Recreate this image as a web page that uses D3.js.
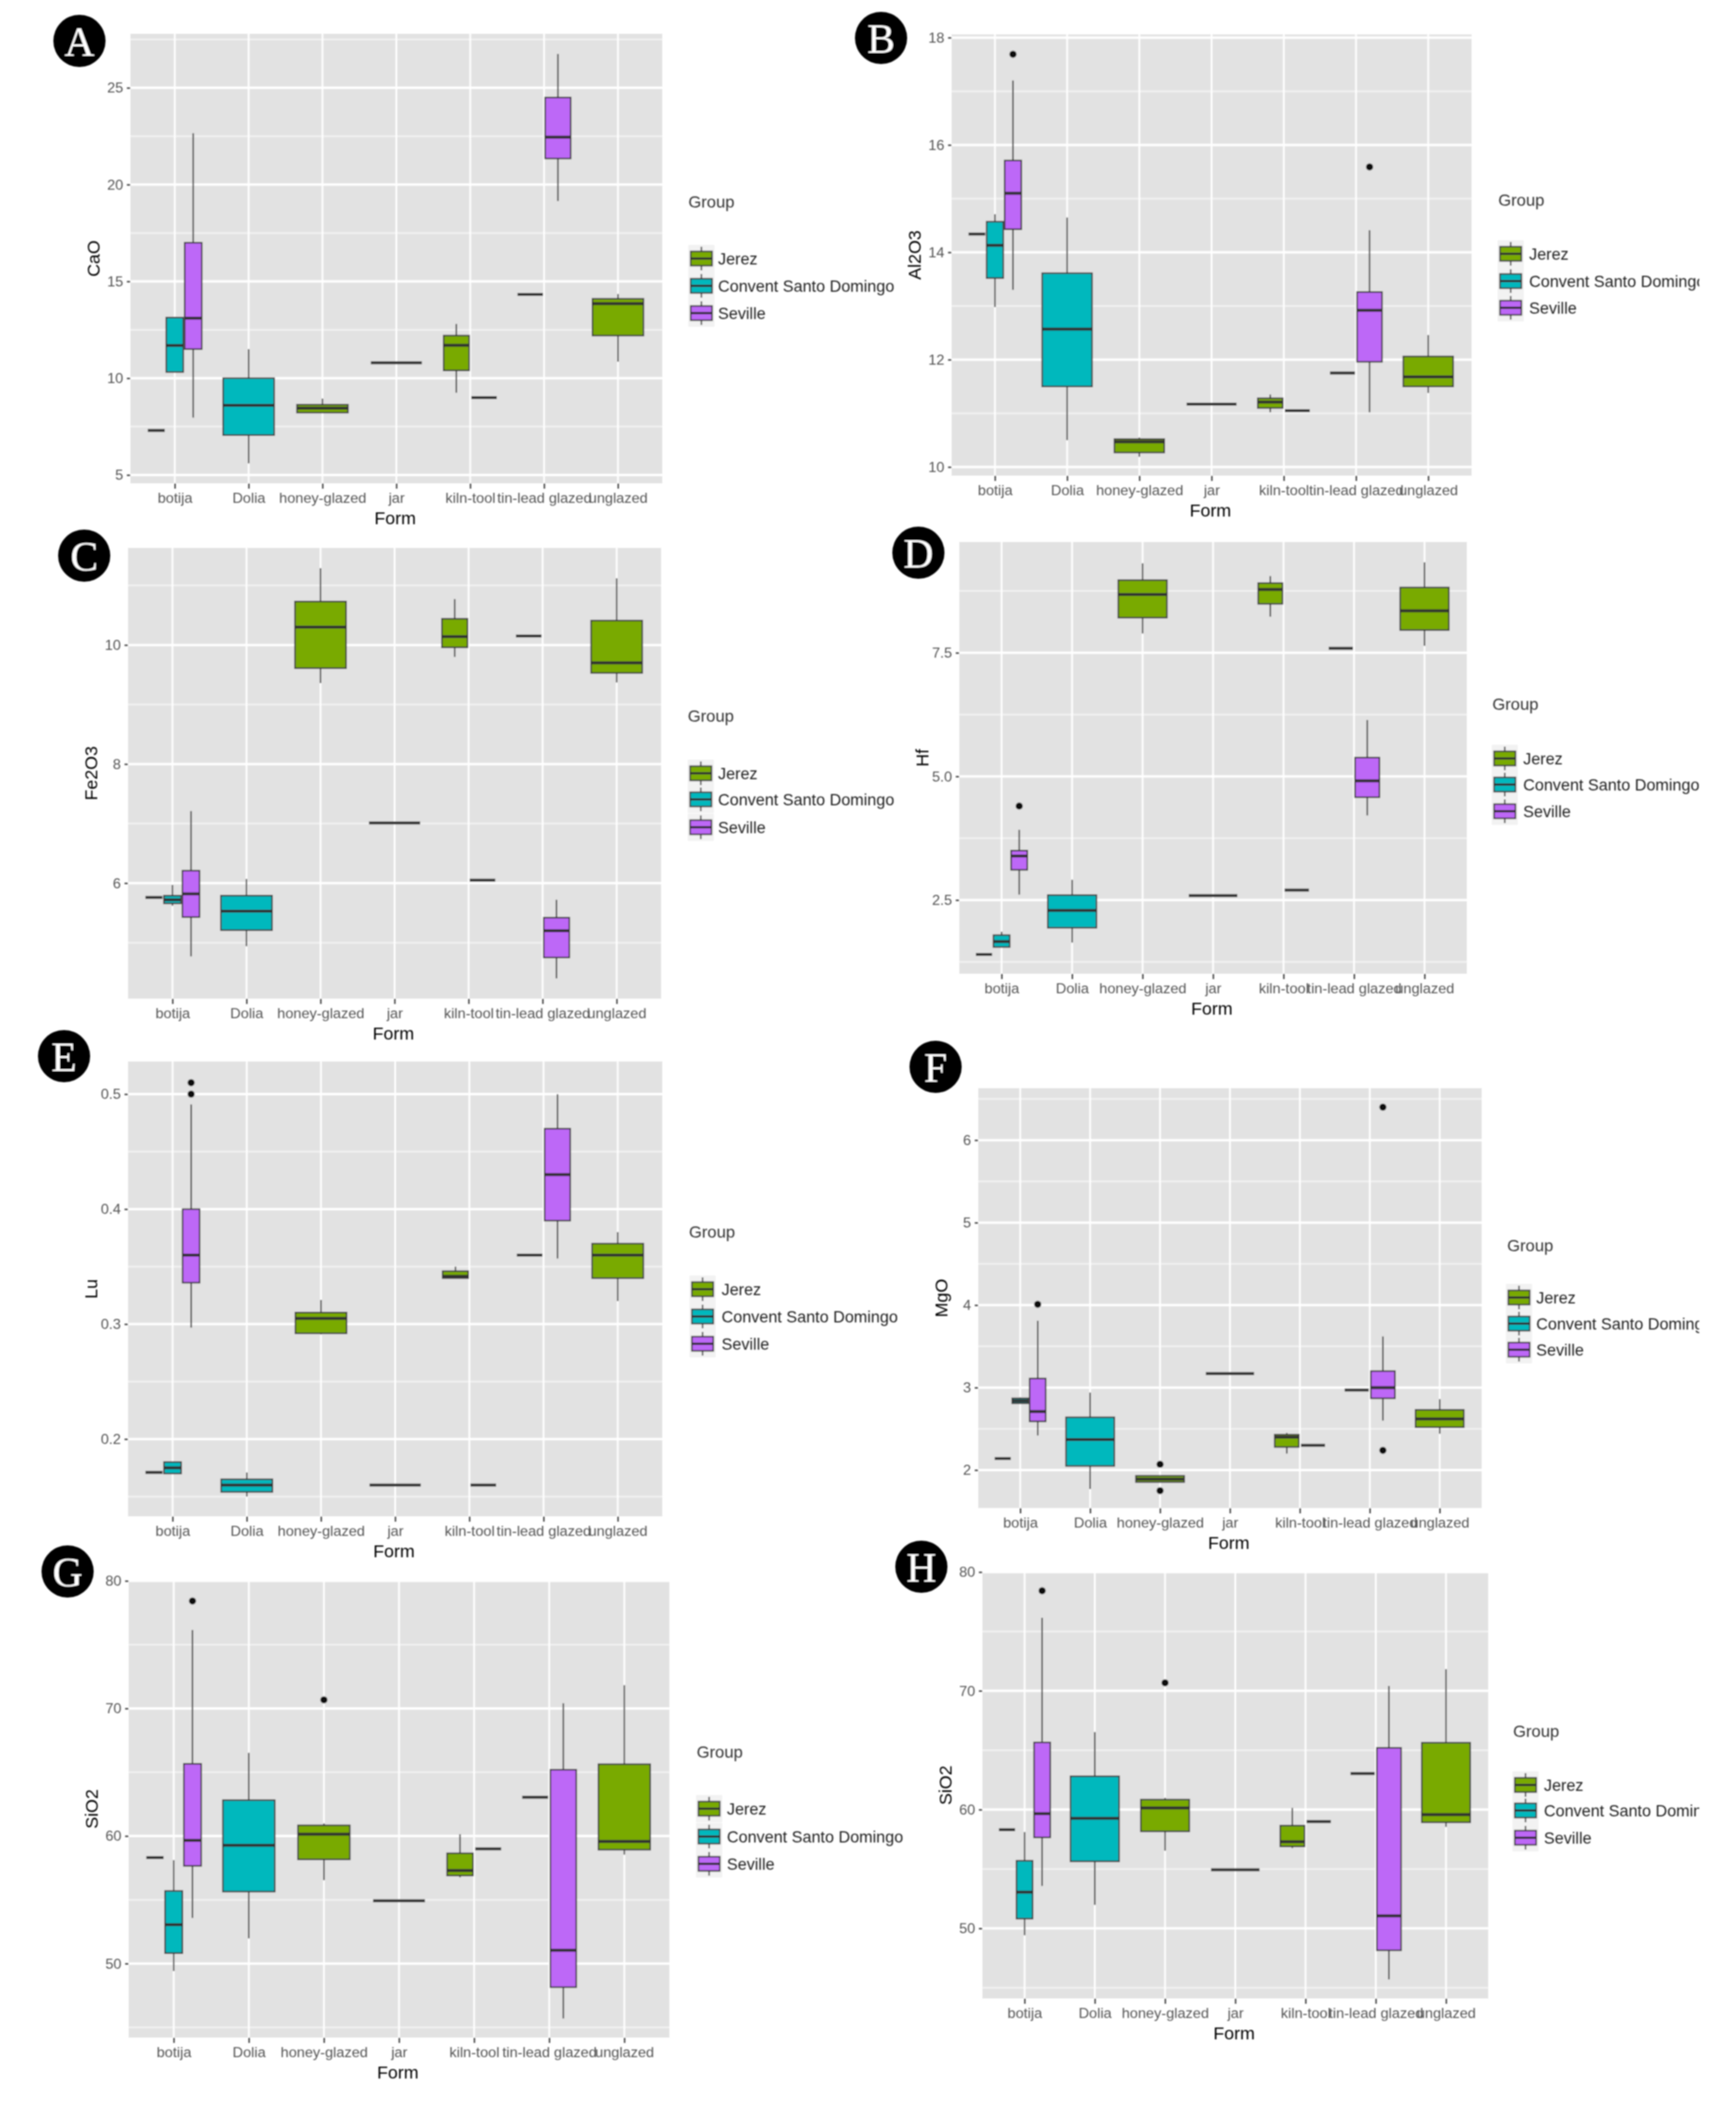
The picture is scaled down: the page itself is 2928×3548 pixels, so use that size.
<!DOCTYPE html>
<html>
<head>
<meta charset="utf-8">
<script src="https://cdn.jsdelivr.net/npm/d3@7"></script>
<style>
  html, body { margin: 0; background: #fff; }
  text { font-family: "Liberation Sans", Arial, sans-serif; }
</style>
</head>
<body>
<div id="chart"></div>
<script>
// Categories and groups
var forms = ["botija", "Dolia", "honey-glazed", "jar", "kiln-tool", "tin-lead glazed", "unglazed"];
var groups = ["Jerez", "Convent Santo Domingo", "Seville"];
var groupColors = ["#79aa00", "#00b8bd", "#bd68f7"];

// Box rows: form, group, whisker low, q1, median, q3, whisker high, outliers
var caO = [
  ["botija", "Jerez", 7.3, 7.3, 7.3, 7.3, 7.3, []],
  ["botija", "Convent Santo Domingo", 10.32, 10.32, 11.69, 13.13, 13.16, []],
  ["botija", "Seville", 7.96, 11.5, 13.1, 17.0, 22.65, []],
  ["Dolia", "Convent Santo Domingo", 5.6, 7.06, 8.6, 10.0, 11.5, []],
  ["honey-glazed", "Jerez", 8.22, 8.22, 8.45, 8.63, 8.95, []],
  ["jar", "Jerez", 10.8, 10.8, 10.8, 10.8, 10.8, []],
  ["kiln-tool", "Jerez", 9.25, 10.4, 11.7, 12.2, 12.8, []],
  ["kiln-tool", "Convent Santo Domingo", 9.0, 9.0, 9.0, 9.0, 9.0, []],
  ["tin-lead glazed", "Jerez", 14.33, 14.33, 14.33, 14.33, 14.33, []],
  ["tin-lead glazed", "Seville", 19.15, 21.35, 22.45, 24.5, 26.75, []],
  ["unglazed", "Jerez", 10.85, 12.2, 13.85, 14.1, 14.35, []]
];

var al2O3 = [
  ["botija", "Jerez", 14.34, 14.34, 14.34, 14.34, 14.34, []],
  ["botija", "Convent Santo Domingo", 12.98, 13.52, 14.13, 14.57, 14.71, []],
  ["botija", "Seville", 13.3, 14.43, 15.1, 15.71, 17.2, [17.69]],
  ["Dolia", "Convent Santo Domingo", 10.5, 11.5, 12.57, 13.61, 14.65, []],
  ["honey-glazed", "Jerez", 10.19, 10.27, 10.47, 10.52, 10.55, []],
  ["jar", "Jerez", 11.17, 11.17, 11.17, 11.17, 11.17, []],
  ["kiln-tool", "Jerez", 11.02, 11.1, 11.21, 11.28, 11.35, []],
  ["kiln-tool", "Convent Santo Domingo", 11.05, 11.05, 11.05, 11.05, 11.05, []],
  ["tin-lead glazed", "Jerez", 11.75, 11.75, 11.75, 11.75, 11.75, []],
  ["tin-lead glazed", "Seville", 11.02, 11.96, 12.92, 13.26, 14.41, [15.59]],
  ["unglazed", "Jerez", 11.38, 11.5, 11.68, 12.06, 12.46, []]
];

var fe2O3 = [
  ["botija", "Jerez", 5.76, 5.76, 5.76, 5.76, 5.76, []],
  ["botija", "Convent Santo Domingo", 5.62, 5.66, 5.72, 5.79, 5.97, []],
  ["botija", "Seville", 4.77, 5.43, 5.82, 6.21, 7.21, []],
  ["Dolia", "Convent Santo Domingo", 4.94, 5.21, 5.53, 5.79, 6.07, []],
  ["honey-glazed", "Jerez", 9.36, 9.61, 10.3, 10.73, 11.29, []],
  ["jar", "Jerez", 7.01, 7.01, 7.01, 7.01, 7.01, []],
  ["kiln-tool", "Jerez", 9.8, 9.96, 10.14, 10.44, 10.77, []],
  ["kiln-tool", "Convent Santo Domingo", 6.05, 6.05, 6.05, 6.05, 6.05, []],
  ["tin-lead glazed", "Jerez", 10.15, 10.15, 10.15, 10.15, 10.15, []],
  ["tin-lead glazed", "Seville", 4.4, 4.75, 5.2, 5.42, 5.72, []],
  ["unglazed", "Jerez", 9.37, 9.53, 9.7, 10.41, 11.12, []]
];

var hf = [
  ["botija", "Jerez", 1.4, 1.4, 1.4, 1.4, 1.4, []],
  ["botija", "Convent Santo Domingo", 1.55, 1.55, 1.66, 1.79, 1.86, []],
  ["botija", "Seville", 2.61, 3.11, 3.39, 3.5, 3.92, [4.4]],
  ["Dolia", "Convent Santo Domingo", 1.64, 1.94, 2.29, 2.6, 2.91, []],
  ["honey-glazed", "Jerez", 7.89, 8.21, 8.68, 8.97, 9.31, []],
  ["jar", "Jerez", 2.59, 2.59, 2.59, 2.59, 2.59, []],
  ["kiln-tool", "Jerez", 8.23, 8.49, 8.78, 8.91, 9.05, []],
  ["kiln-tool", "Convent Santo Domingo", 2.7, 2.7, 2.7, 2.7, 2.7, []],
  ["tin-lead glazed", "Jerez", 7.59, 7.59, 7.59, 7.59, 7.59, []],
  ["tin-lead glazed", "Seville", 4.21, 4.58, 4.91, 5.38, 6.14, []],
  ["unglazed", "Jerez", 7.64, 7.96, 8.35, 8.82, 9.33, []]
];

var lu = [
  ["botija", "Jerez", 0.171, 0.171, 0.171, 0.171, 0.171, []],
  ["botija", "Convent Santo Domingo", 0.17, 0.17, 0.175, 0.18, 0.18, []],
  ["botija", "Seville", 0.297, 0.336, 0.36, 0.4, 0.491, [0.5, 0.51]],
  ["Dolia", "Convent Santo Domingo", 0.15, 0.154, 0.16, 0.165, 0.171, []],
  ["honey-glazed", "Jerez", 0.291, 0.292, 0.305, 0.31, 0.321, []],
  ["jar", "Jerez", 0.16, 0.16, 0.16, 0.16, 0.16, []],
  ["kiln-tool", "Jerez", 0.34, 0.34, 0.3415, 0.346, 0.35, []],
  ["kiln-tool", "Convent Santo Domingo", 0.16, 0.16, 0.16, 0.16, 0.16, []],
  ["tin-lead glazed", "Jerez", 0.36, 0.36, 0.36, 0.36, 0.36, []],
  ["tin-lead glazed", "Seville", 0.357, 0.39, 0.43, 0.47, 0.5, []],
  ["unglazed", "Jerez", 0.32, 0.34, 0.36, 0.37, 0.38, []]
];

var mgO = [
  ["botija", "Jerez", 2.14, 2.14, 2.14, 2.14, 2.14, []],
  ["botija", "Convent Santo Domingo", 2.81, 2.81, 2.84, 2.87, 2.88, []],
  ["botija", "Seville", 2.42, 2.59, 2.71, 3.11, 3.81, [4.01]],
  ["Dolia", "Convent Santo Domingo", 1.77, 2.05, 2.37, 2.64, 2.94, []],
  ["honey-glazed", "Jerez", 1.855, 1.855, 1.89, 1.93, 1.93, [1.75, 2.07]],
  ["jar", "Jerez", 3.17, 3.17, 3.17, 3.17, 3.17, []],
  ["kiln-tool", "Jerez", 2.2, 2.28, 2.4, 2.43, 2.45, []],
  ["kiln-tool", "Convent Santo Domingo", 2.3, 2.3, 2.3, 2.3, 2.3, []],
  ["tin-lead glazed", "Jerez", 2.97, 2.97, 2.97, 2.97, 2.97, []],
  ["tin-lead glazed", "Seville", 2.6, 2.87, 3.0, 3.2, 3.62, [2.24, 6.4]],
  ["unglazed", "Jerez", 2.44, 2.52, 2.62, 2.73, 2.86, []]
];

// Panels G and H show the same SiO2 values
var siO2 = [
  ["botija", "Jerez", 58.31, 58.31, 58.31, 58.31, 58.31, []],
  ["botija", "Convent Santo Domingo", 49.42, 50.82, 53.05, 55.69, 58.11, []],
  ["botija", "Seville", 53.58, 57.66, 59.66, 65.66, 76.15, [78.43]],
  ["Dolia", "Convent Santo Domingo", 51.98, 55.64, 59.27, 62.81, 66.53, []],
  ["honey-glazed", "Jerez", 56.54, 58.17, 60.14, 60.84, 60.99, [70.67]],
  ["jar", "Jerez", 54.93, 54.93, 54.93, 54.93, 54.93, []],
  ["kiln-tool", "Jerez", 56.76, 56.9, 57.3, 58.65, 60.14, []],
  ["kiln-tool", "Convent Santo Domingo", 58.99, 58.99, 58.99, 58.99, 58.99, []],
  ["tin-lead glazed", "Jerez", 63.04, 63.04, 63.04, 63.04, 63.04, []],
  ["tin-lead glazed", "Seville", 45.7, 48.15, 51.05, 65.2, 70.41, []],
  ["unglazed", "Jerez", 58.54, 58.93, 59.58, 65.63, 71.82, []]
];

// Tick labels on each y axis
var caOTicks = ["5", "10", "15", "20", "25"];
var al2O3Ticks = ["10", "12", "14", "16", "18"];
var fe2O3Ticks = ["6", "8", "10"];
var hfTicks = ["2.5", "5.0", "7.5"];
var luTicks = ["0.2", "0.3", "0.4", "0.5"];
var mgOTicks = ["2", "3", "4", "5", "6"];
var siO2Ticks = ["50", "60", "70", "80"];

// Where each panel sits on the page. box is [left, top, right, bottom] of the grey area,
// legend is [title x, title y, key x, text x, row y 1, 2, 3], badge is the circled letter.
var panels = [
  { letter: "A", title: "CaO", rows: caO, ticks: caOTicks, domain: [4.57, 27.79], box: [220, 57, 1117, 815],
    legend: [1161, 340, 1165, 1211, 436, 482, 528], badge: [134, 69] },
  { letter: "B", title: "Al2O3", rows: al2O3, ticks: al2O3Ticks, domain: [9.84, 18.06], box: [1605, 58, 2482, 802],
    legend: [2527, 337, 2530, 2579, 428, 474, 519], badge: [1486, 64] },
  { letter: "C", title: "Fe2O3", rows: fe2O3, ticks: fe2O3Ticks, domain: [4.06, 11.63], box: [216, 924, 1115, 1684],
    legend: [1160, 1207, 1164, 1211, 1304, 1348, 1395], badge: [142, 937] },
  { letter: "D", title: "Hf", rows: hf, ticks: hfTicks, domain: [1.01, 9.74], box: [1618, 914, 2474, 1642],
    legend: [2517, 1187, 2520, 2569, 1279, 1323, 1368], badge: [1549, 932] },
  { letter: "E", title: "Lu", rows: lu, ticks: luTicks, domain: [0.1328, 0.5284], box: [216, 1790, 1117, 2557],
    legend: [1162, 2077, 1167, 1217, 2174, 2220, 2266], badge: [108, 1781] },
  { letter: "F", title: "MgO", rows: mgO, ticks: mgOTicks, domain: [1.54, 6.63], box: [1650, 1835, 2499, 2543],
    legend: [2542, 2100, 2544, 2591, 2188, 2232, 2276], badge: [1578, 1799] },
  { letter: "G", title: "SiO2", rows: siO2, ticks: siO2Ticks, domain: [44.2, 80.04], box: [217, 2665, 1129, 3436],
    legend: [1175, 2954, 1178, 1226, 3050, 3097, 3143], badge: [114, 2650] },
  { letter: "H", title: "SiO2", rows: siO2, ticks: siO2Ticks, domain: [44.1, 80], box: [1657, 2651, 2510, 3370],
    legend: [2552, 2919, 2555, 2604, 3010, 3053, 3099], badge: [1554, 2642] }
];

var svg = d3.select("#chart").append("svg")
  .attr("width", 2928)
  .attr("height", 3548)
  .style("display", "block");

var colorOf = d3.scaleOrdinal().domain(groups).range(groupColors);

// The reference is a soft, upscaled scan, so everything gets a light blur.
svg.append("filter").attr("id", "soft")
  .attr("filterUnits", "userSpaceOnUse")
  .attr("x", 0).attr("y", 0).attr("width", 2928).attr("height", 3548)
  .append("feGaussianBlur").attr("stdDeviation", 0.9);

// Legend text runs off the right edge of the page column on the right hand panels.
svg.append("clipPath").attr("id", "right-edge")
  .append("rect").attr("x", 0).attr("y", 0).attr("width", 2866).attr("height", 3548);

var root = svg.append("g").attr("filter", "url(#soft)");

panels.forEach(function (panel) {
  var left = panel.box[0], top = panel.box[1], right = panel.box[2], bottom = panel.box[3];
  var g = root.append("g").attr("class", "panel-" + panel.letter);

  var x = d3.scalePoint().domain(forms).range([left, right]).padding(0.6);
  var y = d3.scaleLinear().domain(panel.domain).range([bottom, top]);
  var step = x.step();
  var tickValues = panel.ticks.map(Number);
  var tickText = d3.scaleOrdinal().domain(tickValues).range(panel.ticks);

  // Grey background and grid.
  g.append("rect")
    .attr("x", left).attr("y", top)
    .attr("width", right - left).attr("height", bottom - top)
    .attr("fill", "#e2e2e2");

  var gap = tickValues[1] - tickValues[0];
  var minor = d3.range(-1, tickValues.length + 1)
    .map(function (i) { return tickValues[0] + (i + 0.5) * gap; })
    .filter(function (v) { return v > panel.domain[0] && v < panel.domain[1]; });

  g.selectAll(".minor").data(minor).enter().append("line")
    .attr("x1", left).attr("x2", right)
    .attr("y1", y).attr("y2", y)
    .attr("stroke", "#f1f1f1").attr("stroke-width", 3);

  g.selectAll(".major").data(tickValues).enter().append("line")
    .attr("x1", left).attr("x2", right)
    .attr("y1", y).attr("y2", y)
    .attr("stroke", "#fff").attr("stroke-width", 4);

  g.selectAll(".vert").data(forms).enter().append("line")
    .attr("x1", x).attr("x2", x)
    .attr("y1", top).attr("y2", bottom)
    .attr("stroke", "#fff").attr("stroke-width", 3);

  // Axes.
  var xAxis = g.append("g")
    .attr("transform", "translate(0," + bottom + ")")
    .call(d3.axisBottom(x).tickSize(9).tickPadding(7));
  var yAxis = g.append("g")
    .attr("transform", "translate(" + left + ",0)")
    .call(d3.axisLeft(y).tickValues(tickValues).tickFormat(tickText).tickSize(6).tickPadding(6));

  [xAxis, yAxis].forEach(function (axis) {
    axis.select(".domain").remove();
    axis.selectAll("line").attr("stroke", "#444").attr("stroke-width", 2.5);
    axis.selectAll("text")
      .attr("fill", "#555")
      .style("font-size", "24.5px")
      .style("font-family", "\"Liberation Sans\", Arial, sans-serif");
  });

  // Axis titles.
  g.append("text")
    .attr("x", (left + right) / 2 - 2).attr("y", bottom + 69)
    .attr("text-anchor", "middle")
    .attr("font-size", 30)
    .text("Form");

  g.append("text")
    .attr("transform", "translate(" + (left - 52) + "," + (top + bottom) / 2 + ") rotate(-90)")
    .attr("text-anchor", "middle")
    .attr("font-size", 30)
    .text(panel.title);

  // Boxes, dodged by how many groups a form has.
  var present = d3.group(panel.rows, function (d) { return d[0]; });
  panel.rows.forEach(function (row) {
    var peers = present.get(row[0]);
    var n = peers.length;
    var i = peers.indexOf(row);
    var cx = x(row[0]) + (i - (n - 1) / 2) * 0.75 / n * step;
    var w = 0.69 / n * step;
    var color = colorOf(row[1]);
    var box = g.append("g");

    box.append("line")
      .attr("x1", cx).attr("x2", cx)
      .attr("y1", y(row[2])).attr("y2", y(row[6]))
      .attr("stroke", "#444").attr("stroke-width", 2.5);

    box.append("rect")
      .attr("x", cx - w / 2).attr("y", y(row[5]))
      .attr("width", w).attr("height", y(row[3]) - y(row[5]))
      .attr("fill", color)
      .attr("stroke", "#3a3a3a").attr("stroke-width", 2.5);

    box.append("line")
      .attr("x1", cx - w / 2).attr("x2", cx + w / 2)
      .attr("y1", y(row[4])).attr("y2", y(row[4]))
      .attr("stroke", "#303030").attr("stroke-width", 5);

    box.selectAll("circle").data(row[7]).enter().append("circle")
      .attr("cx", cx).attr("cy", y)
      .attr("r", 6)
      .attr("fill", "#111");
  });

  // Legend.
  var legend = g.append("g").attr("clip-path", "url(#right-edge)");
  var rowYs = panel.legend.slice(4);

  legend.append("text")
    .attr("x", panel.legend[0]).attr("y", panel.legend[1]).attr("dy", "0.35em")
    .attr("font-size", 28).attr("fill", "#333")
    .text("Group");

  groups.forEach(function (name, i) {
    var keyX = panel.legend[2], rowY = rowYs[i];
    legend.append("rect")
      .attr("x", keyX - 4).attr("y", rowY - 23)
      .attr("width", 44).attr("height", 46)
      .attr("fill", "#f2f2f2");
    legend.append("line")
      .attr("x1", keyX + 18).attr("x2", keyX + 18)
      .attr("y1", rowY - 20).attr("y2", rowY + 20)
      .attr("stroke", "#444").attr("stroke-width", 2.5);
    legend.append("rect")
      .attr("x", keyX).attr("y", rowY - 12)
      .attr("width", 36).attr("height", 24)
      .attr("fill", groupColors[i])
      .attr("stroke", "#3a3a3a").attr("stroke-width", 2.5);
    legend.append("line")
      .attr("x1", keyX).attr("x2", keyX + 36)
      .attr("y1", rowY).attr("y2", rowY)
      .attr("stroke", "#303030").attr("stroke-width", 4);
    legend.append("text")
      .attr("x", panel.legend[3]).attr("y", rowY).attr("dy", "0.35em")
      .attr("font-size", 27.3).attr("fill", "#222")
      .text(name);
  });

  // Circled panel letter.
  g.append("circle")
    .attr("cx", panel.badge[0]).attr("cy", panel.badge[1])
    .attr("r", 44)
    .attr("fill", "#000");
  g.append("text")
    .attr("x", panel.badge[0]).attr("y", panel.badge[1]).attr("dy", "0.35em")
    .attr("text-anchor", "middle")
    .attr("font-size", 70)
    .attr("fill", "#fff")
    .style("font-family", "\"Liberation Serif\", serif")
    .text(panel.letter);
});
</script>
</body>
</html>
